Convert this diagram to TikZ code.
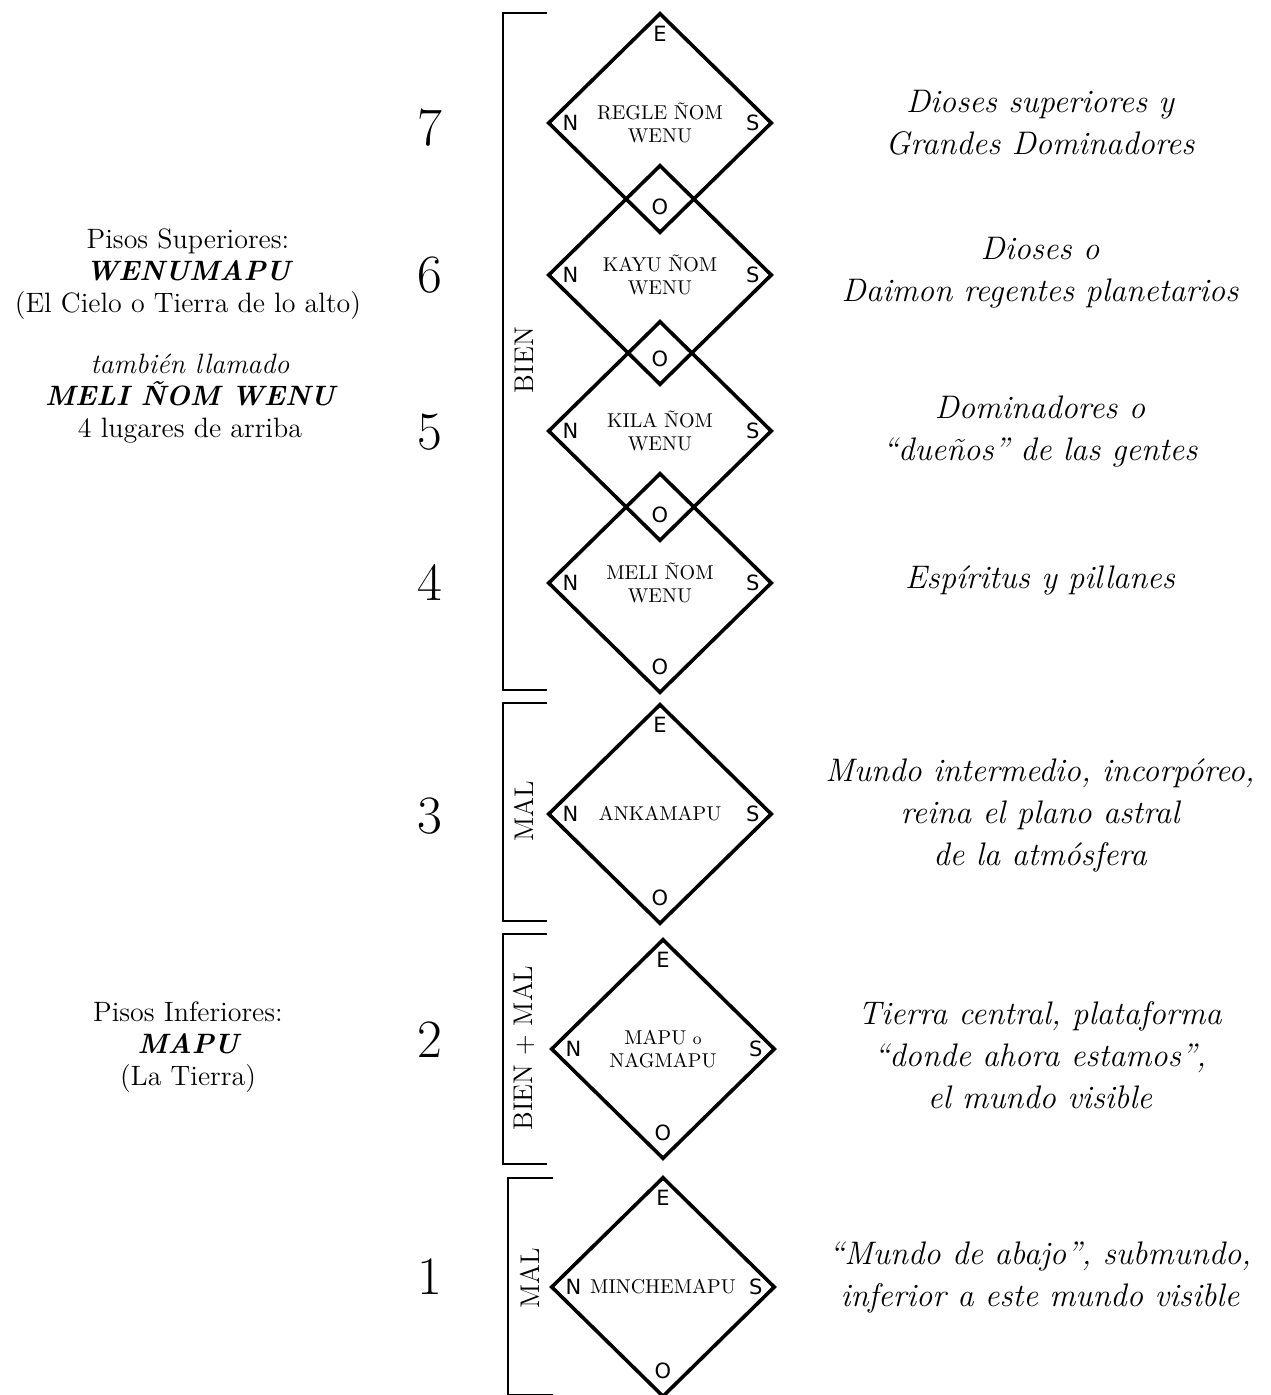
\documentclass[tikz,border=0pt]{standalone}
\usepackage{fontspec}
\newfontfamily\dirfont{DejaVu Sans}
\usepackage{tikz}
\usetikzlibrary{shapes.geometric,positioning}

\tikzset{
  piso/.style={shape=diamond, draw=black, line width=1.8pt, minimum width=112pt, minimum height=110pt,
    inner sep=0pt, align=center, font=\fontsize{10}{11.5}\selectfont},
  dir/.style={font=\dirfont\fontsize{10.5}{11}\selectfont, inner sep=1pt},
  num/.style={font=\fontsize{27}{30}\selectfont},
  desc/.style={align=center, font=\fontsize{16.3}{21}\selectfont\itshape},
  lado/.style={align=center, font=\fontsize{14}{16}\selectfont},
  marco/.style={line width=1.3pt},
  moral/.style={rotate=90, font=\fontsize{13.5}{15}\selectfont}
}

\begin{document}
\begin{tikzpicture}[x=0.5pt,y=-0.5pt]
\useasboundingbox (0,0) rectangle (1270,1395);

% los siete pisos
\node[piso] (p7) at (660,123) {REGLE ÑOM\\WENU};
\node[piso] (p6) at (660,275) {KAYU ÑOM\\WENU};
\node[piso] (p5) at (660,431) {KILA ÑOM\\WENU};
\node[piso] (p4) at (660,583) {MELI ÑOM\\WENU};
\node[piso] (p3) at (660,814) {ANKAMAPU};
\node[piso] (p2) at (663,1049) {MAPU {\fontsize{8.5}{9}\selectfont o}\\NAGMAPU};
\node[piso] (p1) at (663,1287) {MINCHEMAPU};

\foreach \p in {p7,p6,p5,p4,p3,p2,p1} {
  \node[dir, right=7pt of \p.west] (\p-n) {N};
  \node[dir, left=6pt of \p.east] (\p-s) {S};
  \node[dir, above=9pt of \p.south] (\p-o) {O};
}
\foreach \p in {p7,p3,p2,p1}
  \node[dir, below=6.5pt of \p.north] (\p-e) {E};

% corchetes
\draw[marco] (547,13) -- (503,13) -- (503,690) -- (547,690);
\draw[marco] (547,703) -- (503,703) -- (503,921) -- (547,921);
\draw[marco] (547,934) -- (503,934) -- (503,1164) -- (547,1164);
\draw[marco] (553,1178) -- (508,1178) -- (508,1395) -- (553,1395);

\node[moral] (bien) at (524,360) {BIEN};
\node[moral] (mal3) at (524,811) {MAL};
\node[moral] (bienmal) at (524,1048) {BIEN + MAL};
\node[moral] (mal1) at (530,1278) {MAL};

% numeros
\node[num] (n7) at (430,128) {7};
\node[num] (n6) at (430,275) {6};
\node[num] (n5) at (430,432) {5};
\node[num] (n4) at (430,582) {4};
\node[num] (n3) at (430,816) {3};
\node[num] (n2) at (430,1040) {2};
\node[num] (n1) at (430,1277) {1};

% descripciones
\node[desc] (d7) at (1040,123) {Dioses superiores y\\Grandes Dominadores};
\node[desc] (d6) at (1040,273) {Dioses o\\Daimon regentes planetarios};
\node[desc] (d5) at (1040,432) {Dominadores o\\“dueños” de las gentes};
\node[desc] (d4) at (1040,580) {Espíritus y pillanes};
\node[desc] (d3) at (1040,815) {Mundo intermedio, incorpóreo,\\reina el plano astral\\de la atmósfera};
\node[desc] (d2) at (1040,1055) {Tierra central, plataforma\\“donde ahora estamos”,\\el mundo visible};
\node[desc] (d1) at (1040,1277) {“Mundo de abajo”, submundo,\\inferior a este mundo visible};

% lado izquierdo
\node[lado] (sup) at (188,274) {Pisos Superiores:\\{\bfseries\itshape WENUMAPU}\\(El Cielo o Tierra de lo alto)};
\node[lado] (meli) at (190,399) {{\itshape también llamado}\\{\bfseries\itshape MELI ÑOM WENU}\\4 lugares de arriba};
\node[lado] (inf) at (188,1047) {Pisos Inferiores:\\{\bfseries\itshape MAPU}\\(La Tierra)};
\end{tikzpicture}
\end{document}
